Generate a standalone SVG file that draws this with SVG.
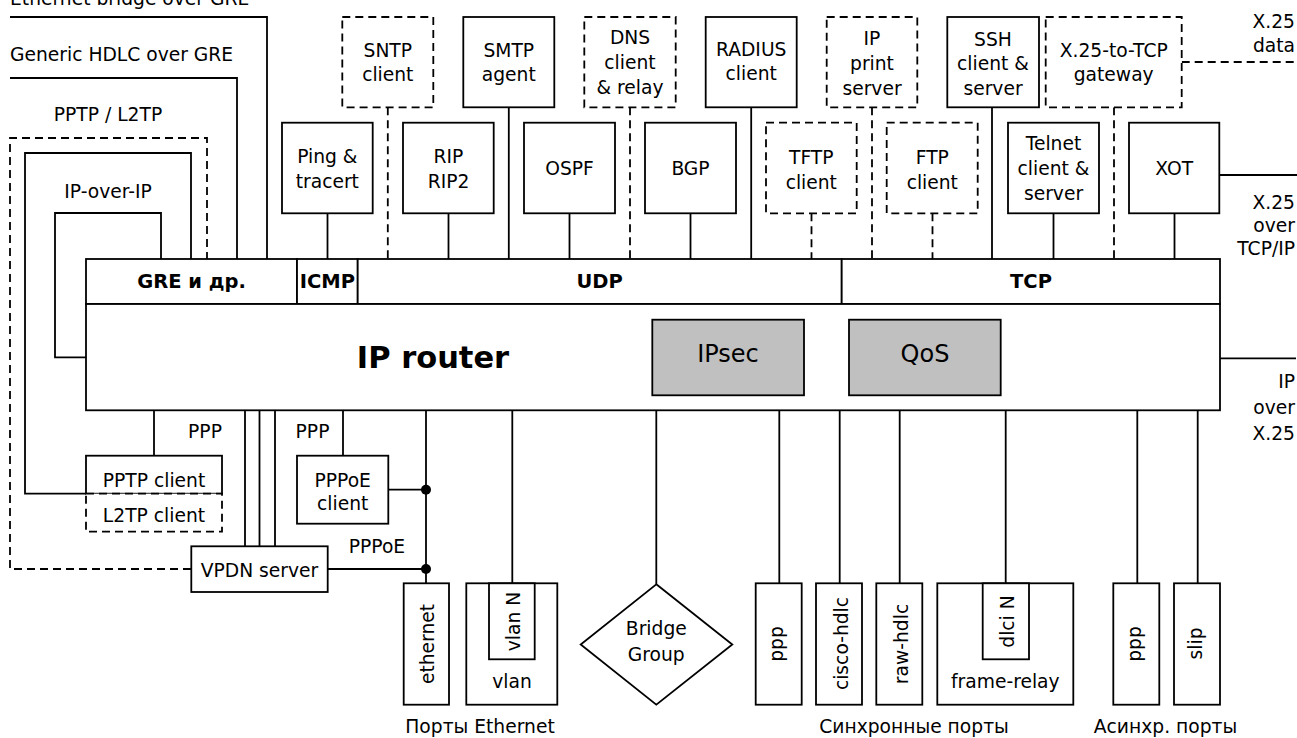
<svg xmlns="http://www.w3.org/2000/svg" width="1297" height="738" viewBox="0 0 1297 738">
<style>
.b{fill:#fff;stroke:#000;stroke-width:1.8}
.d{fill:#fff;stroke:#000;stroke-width:1.8;stroke-dasharray:8 5}
.g{fill:#c0c0c0;stroke:#000;stroke-width:1.8}
.ln{fill:none;stroke:#000;stroke-width:1.8}
.dl{fill:none;stroke:#000;stroke-width:1.8;stroke-dasharray:8 5}
text{font-family:'DejaVu Sans','Liberation Sans',sans-serif;font-size:18.7px;fill:#000}
.c{text-anchor:middle}
.e{text-anchor:end}
.bb{font-weight:bold;font-size:19.5px}
.big{font-size:24px}
</style>
<rect width="1297" height="738" fill="#fff"/>
<g id="connectors">
  <!-- tunnels -->
  <path class="ln" d="M10,17 H267 V259"/>
  <path class="ln" d="M10,78 H237 V259"/>
  <path class="dl" d="M191,569 H10 V138 H207 V259"/>
  <path class="ln" d="M222,493.7 H25 V153 H191 V259"/>
  <path class="ln" d="M86,357.3 H55 V213 H161 V259"/>
  <!-- top row -->
  <path class="dl" d="M387.8,107.3 V259"/>
  <path class="ln" d="M508.8,107.3 V259"/>
  <path class="dl" d="M630,107.3 V259"/>
  <path class="ln" d="M751.2,107.3 V259"/>
  <path class="dl" d="M872,107.3 V259"/>
  <path class="ln" d="M992,107.3 V259"/>
  <path class="dl" d="M1114,107.3 V259"/>
  <!-- bottom row -->
  <path class="ln" d="M327.5,213.3 V259"/>
  <path class="ln" d="M448.5,213.3 V259"/>
  <path class="ln" d="M569.5,213.3 V259"/>
  <path class="ln" d="M690.5,213.3 V259"/>
  <path class="dl" d="M811.5,213.3 V259"/>
  <path class="dl" d="M932.5,213.3 V259"/>
  <path class="ln" d="M1053.5,213.3 V259"/>
  <path class="ln" d="M1174.5,213.3 V259"/>
  <!-- right side -->
  <path class="dl" d="M1181.7,62 H1297"/>
  <path class="ln" d="M1219.3,175 H1297"/>
  <path class="ln" d="M1220,358.3 H1296"/>
  <!-- below router -->
  <path class="ln" d="M154,410.3 V455.7"/>
  <path class="ln" d="M245,410.3 V546.3 M259.5,410.3 V546.3 M275,410.3 V546.3"/>
  <path class="ln" d="M343,410.3 V455.7"/>
  <path class="ln" d="M388.3,489.7 H426 M327.7,569 H426"/>
  <path class="ln" d="M426,410.3 V583.3"/>
  <circle cx="426" cy="489.7" r="5"/>
  <circle cx="426" cy="569" r="5"/>
  <path class="ln" d="M512.3,410.3 V583.3"/>
  <path class="ln" d="M656.3,410.3 V584.3"/>
  <path class="ln" d="M779.3,410.3 V583.3"/>
  <path class="ln" d="M839.7,410.3 V583.3"/>
  <path class="ln" d="M899.7,410.3 V583.3"/>
  <path class="ln" d="M1005.7,410.3 V583.3"/>
  <path class="ln" d="M1137.3,410.3 V583.3"/>
  <path class="ln" d="M1197.7,410.3 V583.3"/>
</g>
<g id="tunnel-labels">
  <text x="10" y="5">Ethernet bridge over GRE</text>
  <text x="10" y="61">Generic HDLC over GRE</text>
  <text class="c" x="108" y="121">PPTP / L2TP</text>
  <text class="c" x="108" y="198">IP-over-IP</text>
  <text class="e" x="1295" y="28">X.25</text>
  <text class="e" x="1295" y="52">data</text>
  <text class="e" x="1295" y="209">X.25</text>
  <text class="e" x="1295" y="232">over</text>
  <text class="e" x="1295" y="255">TCP/IP</text>
  <text class="e" x="1295" y="388">IP</text>
  <text class="e" x="1295" y="414">over</text>
  <text class="e" x="1295" y="440">X.25</text>
  <text class="c" x="205" y="438">PPP</text>
  <text class="c" x="312.5" y="438">PPP</text>
  <text class="c" x="377" y="553">PPPoE</text>
</g>
<g id="sntp"><rect class="d" x="342.3" y="17" width="91" height="90.3"/><text class="c" x="387.8" y="57">SNTP</text><text class="c" x="387.8" y="80.5">client</text></g>
<g id="smtp"><rect class="b" x="463.3" y="17" width="91" height="90.3"/><text class="c" x="508.8" y="57">SMTP</text><text class="c" x="508.8" y="80.5">agent</text></g>
<g id="dns"><rect class="d" x="584.3" y="17" width="91.4" height="90.3"/><text class="c" x="630" y="44">DNS</text><text class="c" x="630" y="69">client</text><text class="c" x="630" y="94">&amp; relay</text></g>
<g id="radius"><rect class="b" x="705.7" y="17" width="91" height="90.3"/><text class="c" x="751.2" y="56">RADIUS</text><text class="c" x="751.2" y="80">client</text></g>
<g id="ipprint"><rect class="d" x="826.7" y="17" width="90.6" height="90.3"/><text class="c" x="872" y="45">IP</text><text class="c" x="872" y="70">print</text><text class="c" x="872" y="95">server</text></g>
<g id="ssh"><rect class="b" x="947.3" y="17" width="91.7" height="90.3"/><text class="c" x="993" y="46">SSH</text><text class="c" x="993" y="70">client &amp;</text><text class="c" x="993" y="95">server</text></g>
<g id="x25gw"><rect class="d" x="1045.7" y="17" width="136" height="90.3"/><text class="c" x="1113.7" y="57">X.25-to-TCP</text><text class="c" x="1113.7" y="80.5">gateway</text></g>

<g id="ping"><rect class="b" x="282" y="122.7" width="90.7" height="90.6"/><text class="c" x="327.3" y="163">Ping &amp;</text><text class="c" x="327.3" y="188">tracert</text></g>
<g id="rip"><rect class="b" x="403" y="122.7" width="90.7" height="90.6"/><text class="c" x="448.5" y="163">RIP</text><text class="c" x="448.5" y="188">RIP2</text></g>
<g id="ospf"><rect class="b" x="524" y="122.7" width="91" height="90.6"/><text class="c" x="569.5" y="175">OSPF</text></g>
<g id="bgp"><rect class="b" x="645" y="122.7" width="91" height="90.6"/><text class="c" x="690.5" y="175">BGP</text></g>
<g id="tftp"><rect class="d" x="766" y="122.7" width="90.7" height="90.6"/><text class="c" x="811.3" y="164">TFTP</text><text class="c" x="811.3" y="189">client</text></g>
<g id="ftp"><rect class="d" x="886.7" y="122.7" width="91" height="90.6"/><text class="c" x="932.3" y="164">FTP</text><text class="c" x="932.3" y="189">client</text></g>
<g id="telnet"><rect class="b" x="1008" y="122.7" width="91" height="90.6"/><text class="c" x="1053.5" y="150">Telnet</text><text class="c" x="1053.5" y="175">client &amp;</text><text class="c" x="1053.5" y="200">server</text></g>
<g id="xot"><rect class="b" x="1129" y="122.7" width="90.3" height="90.6"/><text class="c" x="1174.2" y="175">XOT</text></g>

<g id="gre"><rect class="b" x="86" y="259" width="211" height="45"/><text class="c bb" x="191.5" y="288">GRE и др.</text></g>
<g id="icmp"><rect class="b" x="297" y="259" width="60.7" height="45"/><text class="c bb" x="327.3" y="288">ICMP</text></g>
<g id="udp"><rect class="b" x="357.7" y="259" width="484" height="45"/><text class="c bb" x="599.7" y="288">UDP</text></g>
<g id="tcp"><rect class="b" x="841.7" y="259" width="378.3" height="45"/><text class="c bb" x="1031" y="288">TCP</text></g>
<g id="router"><rect class="b" x="86" y="304" width="1134" height="106.3"/><text class="c" x="433" y="368" style="font-weight:bold;font-size:30.5px">IP router</text></g>
<g id="ipsec"><rect class="g" x="652.3" y="319.7" width="151.7" height="75.6"/><text class="c big" x="728" y="362">IPsec</text></g>
<g id="qos"><rect class="g" x="849" y="319.7" width="151.7" height="75.6"/><text class="c big" x="925" y="362">QoS</text></g>

<g id="pptp"><rect class="b" x="86" y="455.7" width="136" height="38"/><text class="c" x="154" y="486.5">PPTP client</text></g>
<g id="l2tp"><rect class="d" x="86" y="493.7" width="136" height="38"/><text class="c" x="154" y="522">L2TP client</text></g>
<g id="pppoe"><rect class="b" x="297" y="455.7" width="91.3" height="68"/><text class="c" x="342.7" y="486.7">PPPoE</text><text class="c" x="342.7" y="510">client</text></g>
<g id="vpdn"><rect class="b" x="191.3" y="546.3" width="136.4" height="45.7"/><text class="c" x="259.5" y="576.5">VPDN server</text></g>

<g id="ethernet"><rect class="b" x="403.7" y="583.3" width="45.3" height="121.4"/><text class="c" transform="translate(434,644) rotate(-90)">ethernet</text></g>
<g id="vlan"><rect class="b" x="466.3" y="583.3" width="91" height="121.4"/><rect class="b" x="489" y="583.3" width="45.7" height="76"/><text class="c" transform="translate(520,621.5) rotate(-90)">vlan N</text><text class="c" x="512" y="688">vlan</text></g>
<g id="bridge"><polygon class="b" points="656.3,584.3 732.3,644.5 656.3,704.7 580.7,644.5"/><text class="c" x="656.3" y="635">Bridge</text><text class="c" x="656.3" y="661">Group</text></g>
<g id="sync-ppp"><rect class="b" x="755.7" y="583.3" width="46" height="121.4"/><text class="c" transform="translate(783,644) rotate(-90)">ppp</text></g>
<g id="cisco-hdlc"><rect class="b" x="816" y="583.3" width="46" height="121.4"/><text class="c" transform="translate(847.5,643.5) rotate(-90)">cisco-hdlc</text></g>
<g id="raw-hdlc"><rect class="b" x="876.3" y="583.3" width="46" height="121.4"/><text class="c" transform="translate(908,644) rotate(-90)">raw-hdlc</text></g>
<g id="frame-relay"><rect class="b" x="937.3" y="583.3" width="136" height="121.4"/><rect class="b" x="982.7" y="583.3" width="46.3" height="76"/><text class="c" transform="translate(1013.5,621.5) rotate(-90)">dlci N</text><text class="c" x="1005.3" y="688">frame-relay</text></g>
<g id="async-ppp"><rect class="b" x="1113.3" y="583.3" width="46" height="121.4"/><text class="c" transform="translate(1141.3,644) rotate(-90)">ppp</text></g>
<g id="slip"><rect class="b" x="1174" y="583.3" width="46" height="121.4"/><text class="c" transform="translate(1202,643.5) rotate(-90)">slip</text></g>

<g id="port-labels">
  <text class="c" x="480" y="733">Порты Ethernet</text>
  <text class="c" x="914" y="733">Синхронные порты</text>
  <text class="c" x="1165.5" y="733">Асинхр. порты</text>
</g>
</svg>
